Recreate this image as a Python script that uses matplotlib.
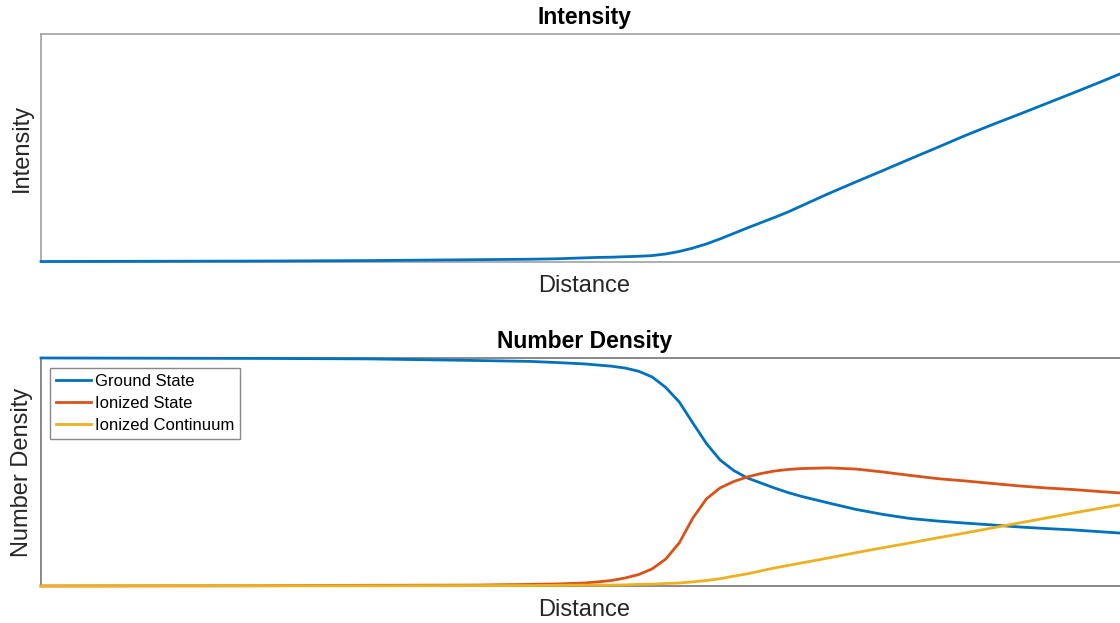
import matplotlib
matplotlib.use("Agg")
import matplotlib.pyplot as plt

plt.rcParams['font.family'] = ['Liberation Sans', 'DejaVu Sans']

# distance along the propagation axis (arbitrary units)
distance = [0, 10, 20, 30, 40, 45, 47.5, 50, 51.25, 52.5, 53.75, 55, 56.25,
            57.5, 58.75, 60, 61.25, 62.5, 63.75, 65, 66.25, 67.5, 68.75, 70,
            72.5, 75, 77.5, 80, 82.5, 85, 87.5, 90, 92.5, 95, 97.5, 100]

# normalised intensity
intensity = [0.002, 0.003, 0.004, 0.006, 0.010, 0.012, 0.014, 0.018, 0.020,
             0.021, 0.023, 0.025, 0.028, 0.035, 0.046, 0.061, 0.079, 0.101,
             0.125, 0.149, 0.172, 0.195, 0.219, 0.246, 0.300, 0.351, 0.401,
             0.452, 0.502, 0.553, 0.601, 0.647, 0.694, 0.741, 0.789, 0.838]

# normalised number densities
ground = [1.0, 0.999, 0.998, 0.996, 0.989, 0.985, 0.980, 0.974, 0.969, 0.964,
          0.956, 0.942, 0.917, 0.871, 0.807, 0.715, 0.625, 0.553, 0.507,
          0.474, 0.452, 0.430, 0.410, 0.393, 0.364, 0.336, 0.314, 0.296,
          0.285, 0.276, 0.268, 0.259, 0.252, 0.246, 0.238, 0.230]
ionized = [0.0, 0.0005, 0.001, 0.003, 0.004, 0.007, 0.009, 0.013, 0.018,
           0.024, 0.035, 0.050, 0.075, 0.118, 0.189, 0.298, 0.382, 0.430,
           0.458, 0.478, 0.493, 0.504, 0.511, 0.515, 0.518, 0.513, 0.500,
           0.485, 0.471, 0.461, 0.450, 0.439, 0.430, 0.423, 0.414, 0.406]
continuum = [0.0, 0.001, 0.001, 0.001, 0.002, 0.002, 0.003, 0.004, 0.004,
             0.004, 0.005, 0.007, 0.008, 0.011, 0.013, 0.018, 0.024, 0.032,
             0.043, 0.053, 0.066, 0.079, 0.090, 0.101, 0.123, 0.146, 0.168,
             0.189, 0.211, 0.232, 0.254, 0.276, 0.298, 0.320, 0.341, 0.362]

blue = '#0072BD'
red = '#D95319'
yellow = '#EDB120'

fig = plt.figure(figsize=(11.2, 6.23), dpi=100)
ax1 = fig.add_axes([0.0366, 0.5795, 0.970, 0.366])
ax2 = fig.add_axes([0.0366, 0.0594, 0.970, 0.366])

ax1.plot(distance, intensity, color=blue, lw=2.0, clip_on=False, zorder=5)

ax2.plot(distance, ground, color=blue, lw=2.0, clip_on=False, zorder=5, label='Ground State')
ax2.plot(distance, ionized, color=red, lw=2.0, clip_on=False, zorder=5, label='Ionized State')
ax2.plot(distance, continuum, color=yellow, lw=2.0, clip_on=False, zorder=6, label='Ionized Continuum')

for ax, title, ylab, sc in [(ax1, 'Intensity', 'Intensity', '#999999'),
                            (ax2, 'Number Density', 'Number Density', '#6a6a6a')]:
    ax.set_xlim(0, 100)
    ax.set_ylim(0, 1)
    ax.set_xticks([])
    ax.set_yticks([])
    for s in ax.spines.values():
        s.set_color(sc)
        s.set_linewidth(1.1)
    ax.spines['right'].set_visible(False)
    ax.set_title(title, fontsize=16.5, fontweight='bold', pad=7)
    ax.set_xlabel('Distance', fontsize=17, color='#262626', labelpad=9.5)
    ax.set_ylabel(ylab, fontsize=17, color='#262626', labelpad=6)

leg = ax2.legend(loc='upper left', bbox_to_anchor=(0.008, 0.956), fontsize=12,
                 frameon=True, fancybox=False, framealpha=1, edgecolor='#888888',
                 handlelength=2.1, handletextpad=0.25, labelspacing=0.42,
                 borderpad=0.35, borderaxespad=0)
leg.get_frame().set_linewidth(1.0)

fig.savefig('out.png', dpi=100)
